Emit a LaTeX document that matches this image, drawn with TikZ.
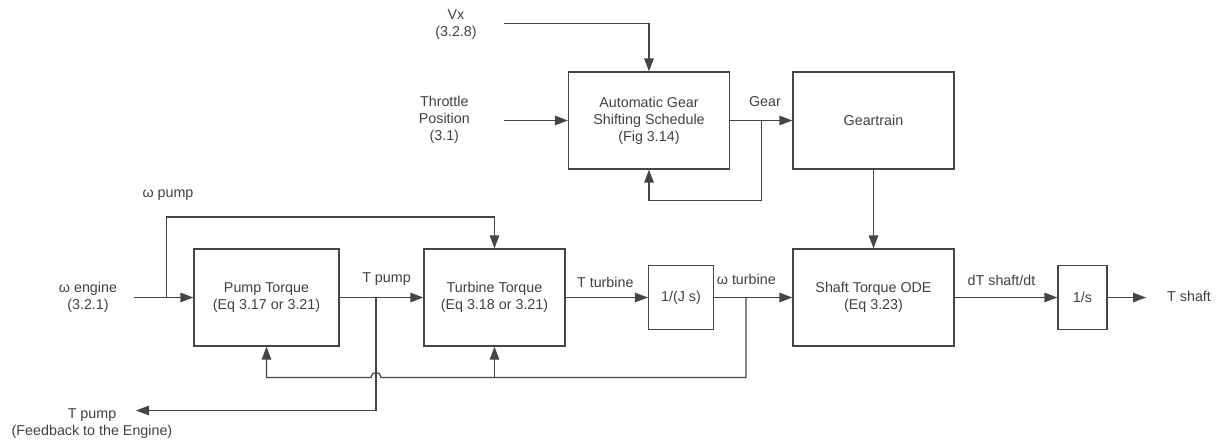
\documentclass[tikz,border=0pt]{standalone}
\usepackage{fontspec}
\setmainfont{Liberation Sans}
\usepackage{tikz}
\usetikzlibrary{arrows.meta, calc}
\definecolor{linegray}{HTML}{454545}
\definecolor{textgray}{HTML}{404040}
\tikzstyle{block}=[draw=linegray, line width=1.3pt, align=center, text=textgray,
                   font=\fontsize{14.3}{17}\selectfont]
\tikzstyle{lbl}=[align=center, text=textgray, inner sep=0pt,
                 font=\fontsize{14.3}{17}\selectfont]
\tikzstyle{arrow}=[-{Triangle[length=13pt, width=9.5pt]}, line width=1.3pt, color=linegray]

\begin{document}
\begin{tikzpicture}[x=1pt, y=-1pt]
  \useasboundingbox (0,0) rectangle (1217,440);

  % Blocks
  \node[block, minimum width=161pt, minimum height=97pt] (shift) at (649,120.5)
    {Automatic Gear\\Shifting Schedule\\(Fig 3.14)};
  \node[block, minimum width=161pt, minimum height=97pt] (gears) at (873.5,120.5) {Geartrain};
  \node[block, minimum width=145pt, minimum height=97pt] (pump) at (266.5,297.5)
    {Pump Torque\\(Eq 3.17 or 3.21)};
  \node[block, minimum width=141pt, minimum height=97pt] (turb) at (494.5,297.5)
    {Turbine Torque\\(Eq 3.18 or 3.21)};
  \node[block, minimum width=65pt, minimum height=64pt] (inertia) at (681,297.5) {1/(J s)};
  \node[block, minimum width=161pt, minimum height=97pt] (shaft) at (873.5,297.5)
    {Shaft Torque ODE\\(Eq 3.23)};
  \node[block, minimum width=49pt, minimum height=64pt] (integ) at (1082.5,297.5) {1/s};

  % Free ends and branch points
  \coordinate (vxin)   at (504,23.5);
  \coordinate (thrin)  at (504,120.5);
  \coordinate (engin)  at (134,297.5);
  \coordinate (tpout)  at (136,410.5);
  \coordinate (tsout)  at (1146,297.5);
  \coordinate (gearbr) at (761.5,120.5);
  \coordinate (engbr)  at (166.5,297.5);
  \coordinate (pumpbr) at (376,297.5);
  \coordinate (turbr)  at (746,297.5);
  \coordinate (fb)     at (746,377.5);

  % Labels
  \node[lbl] (vx)    at (456,24.7)   {Vx\\(3.2.8)};
  \node[lbl] (thr)   at (444.3,120)  {Throttle\\Position\\(3.1)};
  \node[lbl] (weng)  at (88,297.3)   {ω engine\\(3.2.1)};
  \node[lbl] (wpump) at (168,195)    {ω pump};
  \node[lbl] (tpfb)  at (92,424)     {T pump\\(Feedback to the Engine)};
  \node[lbl] (gearl) at (765,102)    {Gear};
  \node[lbl] (tpump) at (386.5,279)  {T pump};
  \node[lbl] (tturb) at (605.3,282.3) {T turbine};
  \node[lbl] (wturb) at (746.3,279)  {ω turbine};
  \node[lbl] (dts)   at (1001.5,280.7) {dT shaft/dt};
  \node[lbl, anchor=west] (tshaft) at (1167,296) {T shaft};

  % Gear schedule
  \draw[arrow] (vxin) -| (shift.north);
  \draw[arrow] (thrin) -- (shift.west);
  \draw[arrow] (shift.east) -- (gears.west);
  \draw[arrow] (gearbr) -- ++(0,80) -| (shift.south);
  \draw[arrow] (gears.south) -- (shaft.north);

  % Torque converter
  \draw[arrow] (engin) -- (pump.west);
  \draw[arrow] (engbr) -- ++(0,-80.5) -| (turb.north);
  \draw[arrow] (pump.east) -- (turb.west);
  \draw[arrow] (pumpbr) |- (tpout);
  \draw[arrow] (turb.east) -- (inertia.west);
  \draw[arrow] (inertia.east) -- (shaft.west);
  \draw[arrow] (turbr) -- (fb) -- ([xshift=5pt]fb -| pumpbr)
    arc[start angle=0, end angle=-180, radius=5] -| (pump.south);
  \draw[arrow] (fb -| turb.south) -- (turb.south);
  \draw[arrow] (shaft.east) -- (integ.west);
  \draw[arrow] (integ.east) -- (tsout);
\end{tikzpicture}
\end{document}
